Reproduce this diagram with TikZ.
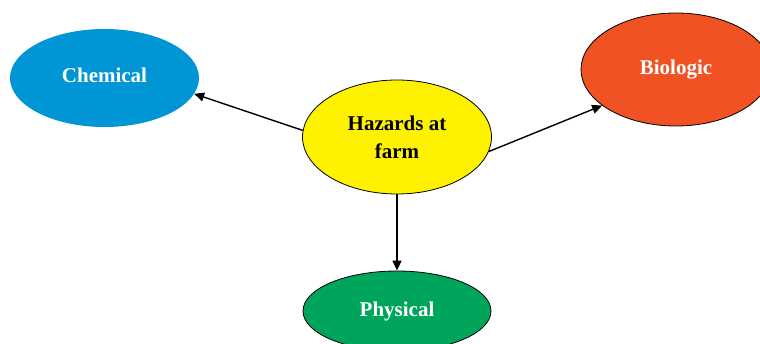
\documentclass[tikz,border=0pt]{standalone}
\usepackage{fontspec}
\setmainfont{Liberation Serif}
\usetikzlibrary{shapes.geometric,arrows.meta}
\definecolor{chemblue}{RGB}{0,150,214}
\definecolor{bioorange}{RGB}{240,82,36}
\definecolor{hazyellow}{RGB}{255,242,0}
\definecolor{physgreen}{RGB}{0,165,92}
\begin{document}
\begin{tikzpicture}[x=1pt,y=-1pt,
  blob/.style={ellipse,inner sep=0pt,font=\fontsize{21}{28}\selectfont\bfseries,align=center},
  link/.style={-{Triangle[length=10pt,width=9pt]},line width=1.4pt}]
  \useasboundingbox (0,0) rectangle (760,344);
  \clip (0,0) rectangle (760,344);
  \node[blob,fill=chemblue,text=white,minimum width=189pt,minimum height=98pt] (chem) at (104.5,78) {\raisebox{6pt}{Chemical}};
  \node[blob,fill=hazyellow,draw=black,line width=0.8pt,minimum width=189pt,minimum height=114pt] (haz) at (397,137) {Hazards at\\farm};
  \node[blob,fill=bioorange,text=white,draw=black,line width=0.8pt,minimum width=190pt,minimum height=113pt] (bio) at (676,69.5) {Biologic};
  \node[blob,fill=physgreen,text=white,draw=black,line width=0.8pt,minimum width=188pt,minimum height=80pt] (phys) at (397,311) {Physical};
  \draw[link] (haz.176) -- (chem.-10);
  \draw[link] (haz.-9) -- (bio.206);
  \draw[link] (haz.south) -- (phys.north);
\end{tikzpicture}
\end{document}
